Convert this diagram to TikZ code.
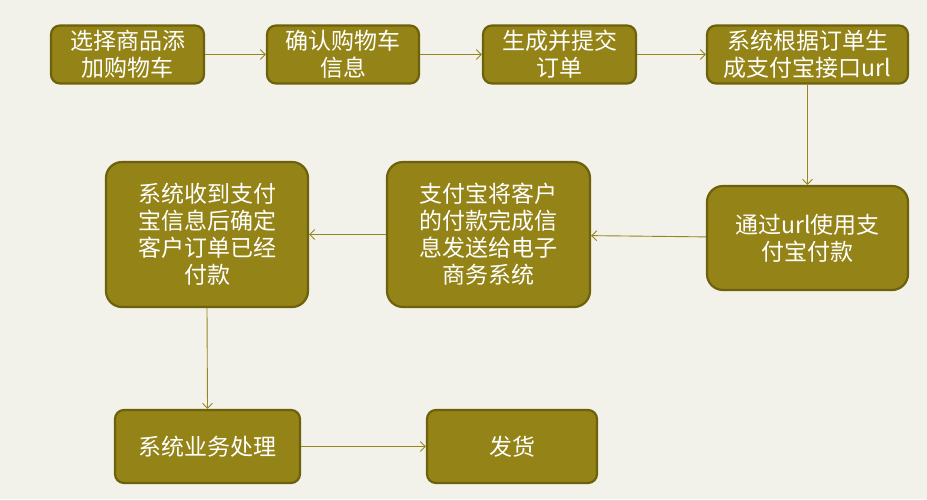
\documentclass[tikz,border=0pt]{standalone}
\usepackage{fontspec}
\newfontfamily\cjk{Noto Sans CJK SC}
\usetikzlibrary{arrows.meta}
\definecolor{bgcol}{RGB}{242,241,234}
\definecolor{boxfill}{RGB}{148,131,23}
\definecolor{boxdraw}{RGB}{110,97,12}
\definecolor{linecol}{RGB}{150,134,30}
\tikzset{
  stepbox/.style={draw=boxdraw, line width=2.2pt, fill=boxfill, text=white,
    rounded corners=9pt, align=center, inner sep=0pt,
    font=\cjk\fontsize{23}{27}\selectfont},
  bigbox/.style={stepbox, rounded corners=16pt},
  flow/.style={draw=linecol, line width=0.9pt, -{Straight Barb[length=5pt,width=10pt]}}
}
\begin{document}
\begin{tikzpicture}[x=1pt,y=-1pt]
\fill[bgcol] (0,0) rectangle (927,499);
\useasboundingbox (0,0) rectangle (927,499);
\node[stepbox, minimum width=153pt, minimum height=58pt] (b1) at (127.5,54.5) {选择商品添\\加购物车};
\node[stepbox, minimum width=152pt, minimum height=58pt] (b2) at (343,54.5) {确认购物车\\信息};
\node[stepbox, minimum width=153pt, minimum height=58pt] (b3) at (559.5,54.5) {生成并提交\\订单};
\node[stepbox, minimum width=201pt, minimum height=58pt] (b4) at (807.5,54.5) {系统根据订单生\\成支付宝接口url};
\node[bigbox, minimum width=201pt, minimum height=104pt] (b5) at (807.5,238) {通过url使用支\\付宝付款};
\node[bigbox, minimum width=203pt, minimum height=145pt] (b6) at (488.5,234.5) {支付宝将客户\\的付款完成信\\息发送给电子\\商务系统};
\node[bigbox, minimum width=202pt, minimum height=145pt] (b7) at (207,234.5) {系统收到支付\\宝信息后确定\\客户订单已经\\付款};
\node[stepbox, minimum width=185pt, minimum height=73pt] (b8) at (207.5,446.5) {系统业务处理};
\node[stepbox, minimum width=170pt, minimum height=73pt] (b9) at (512,446.5) {发货};
\draw[flow] (b1) -- (b2);
\draw[flow] (b2) -- (b3);
\draw[flow] (b3) -- (b4);
\draw[flow] (b4) -- (b5);
\draw[flow] (b5) -- (b6);
\draw[flow] (b6) -- (b7);
\draw[flow] (b7.south) -- (b8.north);
\draw[flow] (b8) -- (b9);
\end{tikzpicture}
\end{document}
